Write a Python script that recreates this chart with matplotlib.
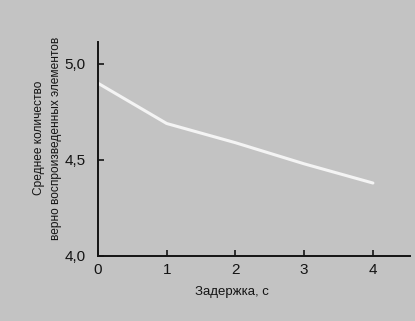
import matplotlib
matplotlib.use('Agg')
import matplotlib.pyplot as plt

# delay in seconds and mean number of correctly recalled items
delay = [0, 1, 2, 3, 4]
recalled = [4.90, 4.69, 4.59, 4.48, 4.38]

x_ticks = [0, 1, 2, 3, 4]
y_ticks = [4.0, 4.5, 5.0]
y_tick_labels = ['4,0', '4,5', '5,0']

bg = '#c3c3c3'
ink = '#141414'
plt.rcParams['font.family'] = ['Liberation Sans', 'DejaVu Sans']

fig = plt.figure(figsize=(4.15, 3.21), dpi=100, facecolor=bg)
ax = fig.add_axes([0.236, 0.2025, 0.752, 0.667])
ax.set_facecolor(bg)

ax.plot(delay, recalled, color='#f4f4f4', lw=2.2, solid_capstyle='round')

ax.set_xlim(0, 4.54)
ax.set_ylim(4.0, 5.115)
ax.set_xticks(x_ticks)
ax.set_yticks(y_ticks)
ax.set_yticklabels(y_tick_labels)

for side in ['top', 'right']:
    ax.spines[side].set_visible(False)
for side in ['left', 'bottom']:
    ax.spines[side].set_color(ink)
    ax.spines[side].set_linewidth(1.4)

ax.tick_params(direction='in', length=4, width=1.2, color=ink,
               labelsize=11, labelcolor=ink)
ax.tick_params(axis='y', pad=9)
ax.tick_params(axis='x', pad=5)

ax.set_xlabel('Задержка, с', fontsize=9.5, color=ink)
ax.xaxis.set_label_coords(0.43, -0.14)
ax.set_ylabel('Среднее количество\nверно воспроизведенных элементов',
              fontsize=8.6, color=ink, linespacing=1.6)
ax.yaxis.set_label_coords(-0.115, 0.55)

fig.savefig('out.png', dpi=100, facecolor=bg)
